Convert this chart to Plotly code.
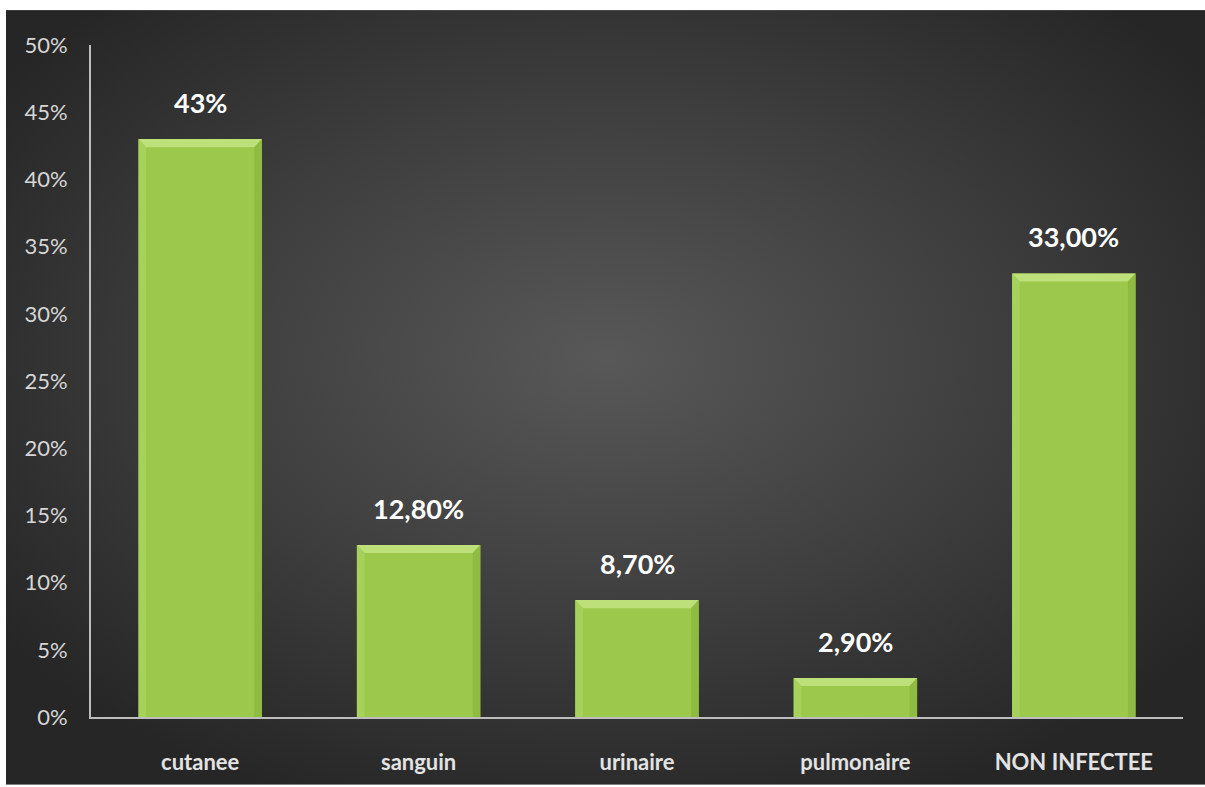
import base64
import plotly.graph_objects as go

categories = ["cutanee", "sanguin", "urinaire", "pulmonaire", "NON INFECTEE"]
values = [0.43, 0.128, 0.087, 0.029, 0.33]
value_labels = ["43%", "12,80%", "8,70%", "2,90%", "33,00%"]
y_ticks = [0.0, 0.05, 0.10, 0.15, 0.20, 0.25, 0.30, 0.35, 0.40, 0.45, 0.50]
y_tick_labels = ["0%", "5%", "10%", "15%", "20%", "25%", "30%", "35%", "40%", "45%", "50%"]

W, H = 1205, 787
ML, MR, MT, MB = 91, 22, 45, 68
PW, PH = W - ML - MR, H - MT - MB

BAR_W = 0.565
BEVEL_X = 0.035
BEVEL_Y = 0.006

# Dark radial background as an inline SVG
svg = """<svg xmlns='http://www.w3.org/2000/svg' width='1199' height='777' viewBox='0 0 1199 777' preserveAspectRatio='none'>
<defs><radialGradient id='g' cx='0.5' cy='0.45' r='0.62'>
<stop offset='0' stop-color='#585858'/>
<stop offset='0.55' stop-color='#3d3d3d'/>
<stop offset='1' stop-color='#262626'/>
</radialGradient></defs>
<rect width='1199' height='777' fill='url(#g)'/>
</svg>"""
bg_src = "data:image/svg+xml;base64," + base64.b64encode(svg.encode()).decode()

fig = go.Figure()
fig.add_trace(go.Bar(
    x=list(range(len(categories))),
    y=values,
    width=BAR_W,
    marker=dict(color="#9cc94b", line=dict(width=0)),
    hoverinfo="skip",
))

shapes = []
for i, v in enumerate(values):
    x0, x1 = i - BAR_W / 2, i + BAR_W / 2
    by = min(BEVEL_Y, v / 3)
    # top highlight
    shapes.append(dict(type="path", xref="x", yref="y", line=dict(width=0),
                       fillcolor="#bde07a",
                       path=f"M {x0},{v} L {x1},{v} L {x1 - BEVEL_X},{v - by} L {x0 + BEVEL_X},{v - by} Z"))
    # left edge
    shapes.append(dict(type="path", xref="x", yref="y", line=dict(width=0),
                       fillcolor="#a6d15a",
                       path=f"M {x0},{v} L {x0 + BEVEL_X},{v - by} L {x0 + BEVEL_X},0 L {x0},0 Z"))
    # right edge
    shapes.append(dict(type="path", xref="x", yref="y", line=dict(width=0),
                       fillcolor="#90bb42",
                       path=f"M {x1},{v} L {x1 - BEVEL_X},{v - by} L {x1 - BEVEL_X},0 L {x1},0 Z"))

annotations = [
    dict(x=i, y=v, xref="x", yref="y", text=f"<b>{t}</b>", showarrow=False,
         yanchor="bottom", yshift=18,
         font=dict(family="Lato, Open Sans, sans-serif", size=27, color="#ffffff"))
    for i, (v, t) in enumerate(zip(values, value_labels))
]

fig.update_layout(
    width=W, height=H,
    margin=dict(l=ML, r=MR, t=MT, b=MB, pad=0),
    paper_bgcolor="#ffffff",
    plot_bgcolor="rgba(0,0,0,0)",
    showlegend=False,
    shapes=shapes,
    annotations=annotations,
    images=[dict(source=bg_src, xref="paper", yref="paper",
                 x=(6 - ML) / PW, y=1 + (MT - 10) / PH,
                 sizex=(W - 6) / PW, sizey=(H - 10) / PH,
                 xanchor="left", yanchor="top", sizing="stretch", layer="below")],
    xaxis=dict(
        range=[-0.5, len(categories) - 0.5],
        tickmode="array", tickvals=list(range(len(categories))),
        ticktext=[f"<b>{c}</b>" for c in categories],
        tickfont=dict(family="Lato, Open Sans, sans-serif", size=22, color="#e3e3e3"),
        showgrid=False, zeroline=False, showline=True,
        linecolor="#bdbdbd", linewidth=2, ticks="", ticklabelstandoff=25,
    ),
    yaxis=dict(
        range=[0, 0.5],
        tickmode="array", tickvals=y_ticks, ticktext=y_tick_labels,
        tickfont=dict(family="Lato, Open Sans, sans-serif", size=22, color="#d6d6d6"),
        showgrid=False, zeroline=False, showline=True,
        linecolor="#bdbdbd", linewidth=2, ticks="", ticklabelstandoff=17,
    ),
)

fig.write_html("out.html")
